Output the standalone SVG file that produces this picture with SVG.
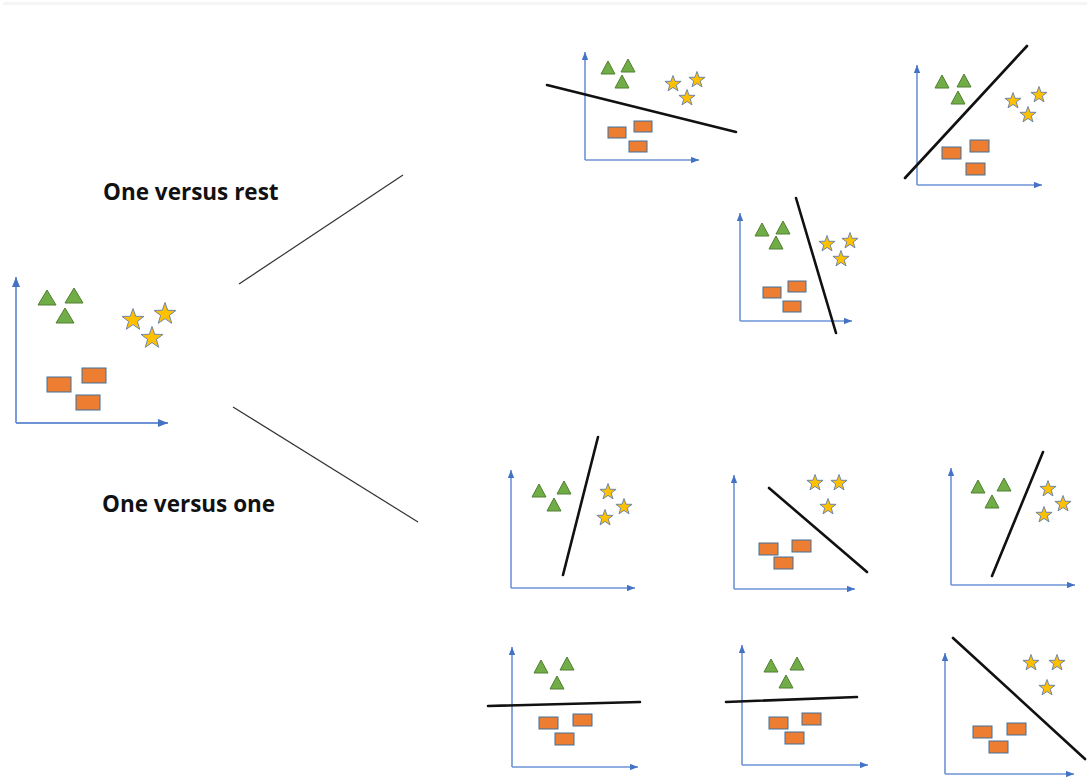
<svg xmlns="http://www.w3.org/2000/svg" xmlns:xlink="http://www.w3.org/1999/xlink" width="1087" height="780" viewBox="0 0 1087 780">
  <style>
    .axis { stroke: #6d93d6; stroke-width: 1.6; fill: none; marker-end: url(#arrow); }
    .axis-l { stroke: #6d93d6; stroke-width: 1.8; fill: none; marker-end: url(#arrow-l); }
    .tri { fill: #70AD47; stroke: #507E32; stroke-width: 1; stroke-linejoin: round; }
    .star { fill: #FFC000; stroke: #6f86a8; stroke-width: 1; stroke-linejoin: round; }
    .box { fill: #ED7D31; stroke: #41719C; stroke-width: 1; }
    .divider { stroke: #111; stroke-width: 2.6; stroke-linecap: round; }
    .connector { stroke: #333; stroke-width: 1.2; fill: none; }
    .label { font-family: "Open Sans", "Liberation Sans", sans-serif; font-weight: 700; font-size: 22.5px; fill: #111; }
  </style>
  <defs>
    <marker id="arrow" viewBox="0 0 10 8" refX="10" refY="4" markerWidth="8" markerHeight="6.5" markerUnits="userSpaceOnUse" orient="auto">
      <path d="M0,0 L10,4 L0,8 z" fill="#4472C4"/>
    </marker>
    <marker id="arrow-l" viewBox="0 0 10 8" refX="10" refY="4" markerWidth="10" markerHeight="8" markerUnits="userSpaceOnUse" orient="auto">
      <path d="M0,0 L10,4 L0,8 z" fill="#4472C4"/>
    </marker>
    <!-- large shapes for the source plot -->
    <polygon id="tri-l" class="tri" points="0,0 9,15 -9,15"/>
    <polygon id="star-l" class="star" points="0,-11.5 2.7,-3.72 10.94,-3.55 4.37,1.42 6.76,9.3 0,4.6 -6.76,9.3 -4.37,1.42 -10.94,-3.55 -2.7,-3.72"/>
    <rect id="box-l" class="box" x="0" y="0" width="24" height="15"/>
    <!-- small shapes for the classifier plots -->
    <polygon id="tri-s" class="tri" points="0,0 7,13 -7,13"/>
    <polygon id="star-s" class="star" points="0,-8.5 2,-2.75 8.08,-2.63 3.23,1.05 5,6.88 0,3.4 -5,6.88 -3.23,1.05 -8.08,-2.63 -2,-2.75"/>
    <rect id="box-s" class="box" x="0" y="0" width="19" height="12"/>
    <rect id="box-xs" class="box" x="0" y="0" width="18" height="11"/>
  </defs>

  <rect width="1087" height="780" fill="#ffffff"/>
  <rect x="3" y="2" width="1084" height="3" fill="#f5f5f5"/>

  <!-- source data -->
  <g id="plot-source">
    <line class="axis-l" x1="16" y1="423" x2="16" y2="277"/>
    <line class="axis-l" x1="16" y1="423" x2="168" y2="423"/>
    <use xlink:href="#tri-l" x="47" y="290"/>
    <use xlink:href="#tri-l" x="74" y="288"/>
    <use xlink:href="#tri-l" x="65" y="308"/>
    <use xlink:href="#star-l" x="133" y="320"/>
    <use xlink:href="#star-l" x="165" y="314"/>
    <use xlink:href="#star-l" x="152" y="338"/>
    <use xlink:href="#box-l" x="47" y="377"/>
    <use xlink:href="#box-l" x="82" y="368"/>
    <use xlink:href="#box-l" x="76" y="395"/>
  </g>

  <g id="label-ovr">
    <text class="label" x="103" y="200">One versus rest</text>
  </g>
  <g id="label-ovo">
    <text class="label" x="102" y="512">One versus one</text>
  </g>

  <g id="connectors">
    <line class="connector" x1="239" y1="284" x2="403" y2="175"/>
    <line class="connector" x1="233" y1="407" x2="418" y2="522"/>
  </g>

  <!-- one versus rest -->
  <g id="plot-ovr-1">
    <line class="axis" x1="585" y1="160" x2="585" y2="52"/>
    <line class="axis" x1="585" y1="160" x2="699" y2="160"/>
    <use xlink:href="#tri-s" x="608" y="61"/>
    <use xlink:href="#tri-s" x="628" y="59"/>
    <use xlink:href="#tri-s" x="622" y="75"/>
    <use xlink:href="#star-s" x="673" y="84"/>
    <use xlink:href="#star-s" x="697" y="80"/>
    <use xlink:href="#star-s" x="687" y="98"/>
    <use xlink:href="#box-xs" x="608" y="127"/>
    <use xlink:href="#box-xs" x="634" y="121"/>
    <use xlink:href="#box-xs" x="629" y="141"/>
    <line class="divider" x1="547" y1="85" x2="736" y2="132"/>
  </g>

  <g id="plot-ovr-2">
    <line class="axis" x1="917" y1="185" x2="917" y2="65"/>
    <line class="axis" x1="917" y1="185" x2="1042" y2="185"/>
    <use xlink:href="#tri-s" x="942" y="75"/>
    <use xlink:href="#tri-s" x="964" y="74"/>
    <use xlink:href="#tri-s" x="958" y="91"/>
    <use xlink:href="#star-s" x="1013" y="101"/>
    <use xlink:href="#star-s" x="1039" y="95"/>
    <use xlink:href="#star-s" x="1028" y="115"/>
    <use xlink:href="#box-s" x="942" y="147"/>
    <use xlink:href="#box-s" x="970" y="140"/>
    <use xlink:href="#box-s" x="966" y="163"/>
    <line class="divider" x1="905" y1="178" x2="1027" y2="46"/>
  </g>

  <g id="plot-ovr-3">
    <line class="axis" x1="740" y1="321" x2="740" y2="213"/>
    <line class="axis" x1="740" y1="321" x2="852" y2="321"/>
    <use xlink:href="#tri-s" x="762" y="223"/>
    <use xlink:href="#tri-s" x="783" y="221"/>
    <use xlink:href="#tri-s" x="776" y="236"/>
    <use xlink:href="#star-s" x="827" y="244"/>
    <use xlink:href="#star-s" x="850" y="241"/>
    <use xlink:href="#star-s" x="841" y="259"/>
    <use xlink:href="#box-xs" x="763" y="287"/>
    <use xlink:href="#box-xs" x="788" y="281"/>
    <use xlink:href="#box-xs" x="783" y="301"/>
    <line class="divider" x1="796" y1="198" x2="836" y2="333"/>
  </g>

  <!-- one versus one -->
  <g id="plot-ovo-1">
    <line class="axis" x1="511" y1="588" x2="511" y2="470"/>
    <line class="axis" x1="511" y1="588" x2="635" y2="588"/>
    <use xlink:href="#tri-s" x="539" y="484"/>
    <use xlink:href="#tri-s" x="564" y="481"/>
    <use xlink:href="#tri-s" x="554" y="498"/>
    <use xlink:href="#star-s" x="608" y="492"/>
    <use xlink:href="#star-s" x="624" y="507"/>
    <use xlink:href="#star-s" x="605" y="518"/>
    <line class="divider" x1="598" y1="437" x2="563" y2="575"/>
  </g>

  <g id="plot-ovo-2">
    <line class="axis" x1="734" y1="589" x2="734" y2="475"/>
    <line class="axis" x1="734" y1="589" x2="855" y2="589"/>
    <use xlink:href="#star-s" x="815" y="483"/>
    <use xlink:href="#star-s" x="839" y="483"/>
    <use xlink:href="#star-s" x="828" y="507"/>
    <use xlink:href="#box-s" x="759" y="543"/>
    <use xlink:href="#box-s" x="792" y="540"/>
    <use xlink:href="#box-s" x="774" y="557"/>
    <line class="divider" x1="769" y1="488" x2="867" y2="572"/>
  </g>

  <g id="plot-ovo-3">
    <line class="axis" x1="951" y1="585" x2="951" y2="468"/>
    <line class="axis" x1="951" y1="585" x2="1075" y2="585"/>
    <use xlink:href="#tri-s" x="978" y="480"/>
    <use xlink:href="#tri-s" x="1004" y="478"/>
    <use xlink:href="#tri-s" x="992" y="495"/>
    <use xlink:href="#star-s" x="1048" y="489"/>
    <use xlink:href="#star-s" x="1063" y="504"/>
    <use xlink:href="#star-s" x="1044" y="515"/>
    <line class="divider" x1="1043" y1="452" x2="992" y2="576"/>
  </g>

  <g id="plot-ovo-4">
    <line class="axis" x1="512" y1="767" x2="512" y2="647"/>
    <line class="axis" x1="512" y1="767" x2="638" y2="767"/>
    <use xlink:href="#tri-s" x="541" y="660"/>
    <use xlink:href="#tri-s" x="567" y="657"/>
    <use xlink:href="#tri-s" x="557" y="676"/>
    <use xlink:href="#box-s" x="539" y="717"/>
    <use xlink:href="#box-s" x="573" y="714"/>
    <use xlink:href="#box-s" x="555" y="733"/>
    <line class="divider" x1="488" y1="706" x2="640" y2="702"/>
  </g>

  <g id="plot-ovo-5">
    <line class="axis" x1="742" y1="765" x2="742" y2="645"/>
    <line class="axis" x1="742" y1="765" x2="868" y2="765"/>
    <use xlink:href="#tri-s" x="771" y="659"/>
    <use xlink:href="#tri-s" x="797" y="657"/>
    <use xlink:href="#tri-s" x="786" y="675"/>
    <use xlink:href="#box-s" x="769" y="717"/>
    <use xlink:href="#box-s" x="802" y="713"/>
    <use xlink:href="#box-s" x="785" y="732"/>
    <line class="divider" x1="726" y1="702" x2="857" y2="697"/>
  </g>

  <g id="plot-ovo-6">
    <line class="axis" x1="945" y1="774" x2="945" y2="653"/>
    <line class="axis" x1="945" y1="774" x2="1074" y2="774"/>
    <use xlink:href="#star-s" x="1031" y="663"/>
    <use xlink:href="#star-s" x="1057" y="663"/>
    <use xlink:href="#star-s" x="1047" y="688"/>
    <use xlink:href="#box-s" x="973" y="726"/>
    <use xlink:href="#box-s" x="1007" y="723"/>
    <use xlink:href="#box-s" x="989" y="741"/>
    <line class="divider" x1="953" y1="638" x2="1085" y2="759"/>
  </g>
</svg>
